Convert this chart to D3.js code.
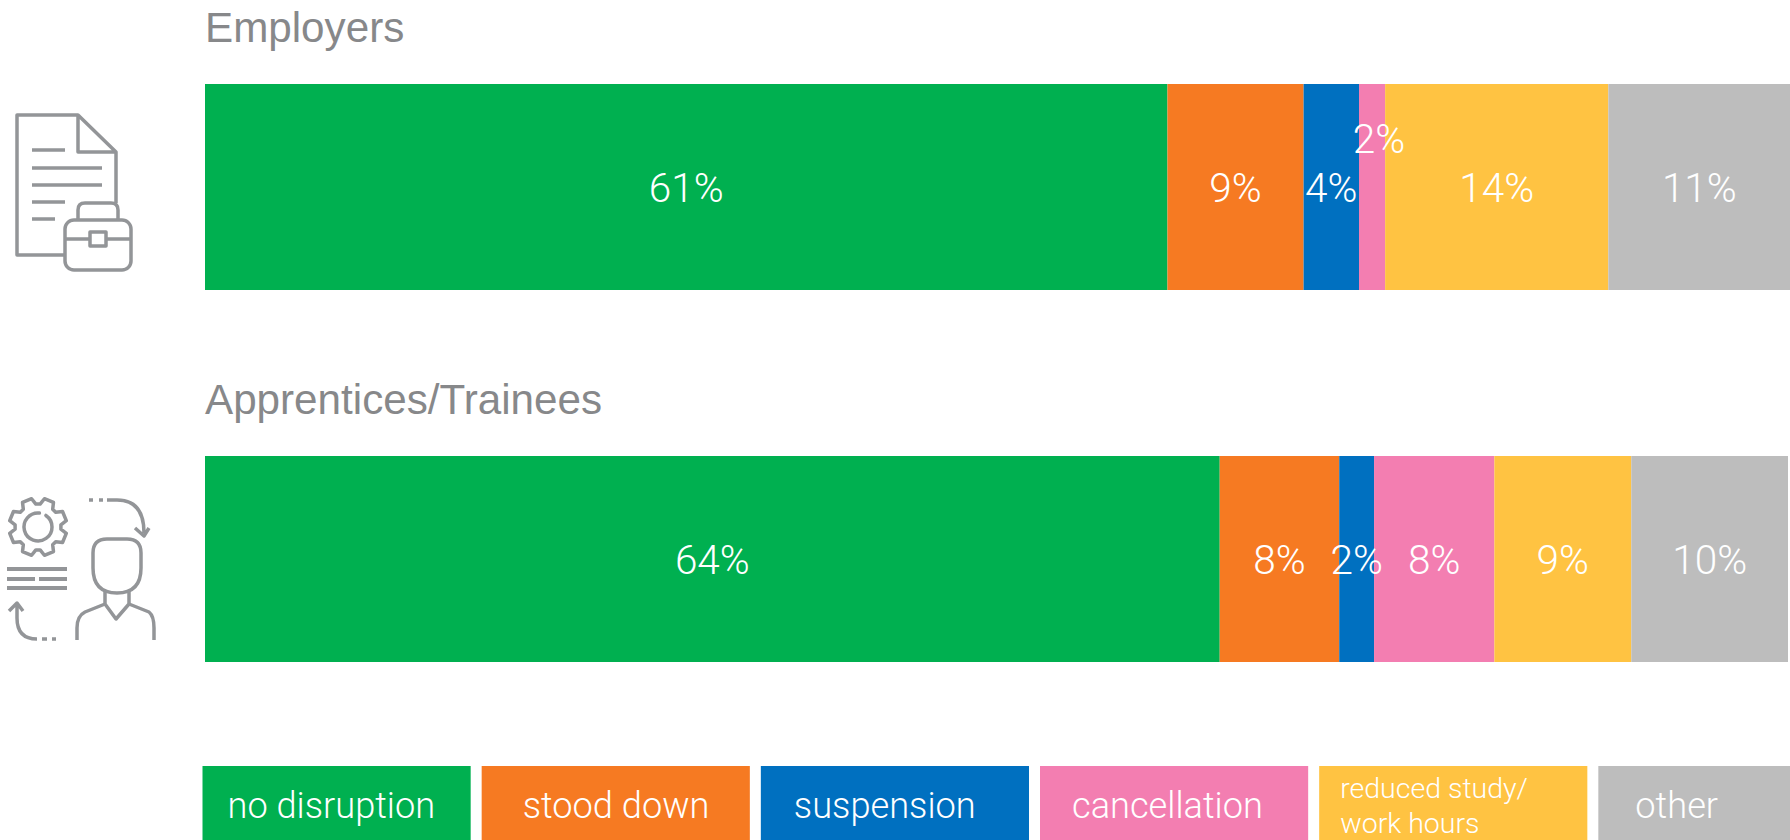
<!DOCTYPE html>
<html>
<head>
<meta charset="utf-8">
<script src="https://cdn.jsdelivr.net/npm/d3@7"></script>
<style>
  html, body { margin: 0; padding: 0; background: #fff; overflow: hidden; }
  svg { display: block; }
  text { font-family: "Liberation Sans", Arial, sans-serif; }
  text.light { font-family: Roboto, "Liberation Sans", sans-serif; font-weight: 300; }
  .icon path, .icon rect, .icon circle { fill: none; stroke: #939598; stroke-width: 3.5; stroke-linejoin: round; }
</style>
</head>
<body>
<div id="chart"></div>
<script>
// chart data
const categories = ["no disruption", "stood down", "suspension", "cancellation", "reduced study/ work hours", "other"];
const colors = ["#00b050", "#f67a22", "#0070c0", "#f37eb1", "#ffc342", "#bdbdbd"];
const groups = ["Employers", "Apprentices/Trainees"];
const employers = [60.8, 8.6, 3.5, 1.65, 14.1, 11.5];
const apprentices = [64.1, 7.55, 2.2, 7.6, 8.65, 9.9];
const employerLabels = ["61%", "9%", "4%", "2%", "14%", "11%"];
const apprenticeLabels = ["64%", "8%", "2%", "8%", "9%", "10%"];

const width = 1790, height = 840;

const svg = d3.select("#chart").append("svg")
  .attr("width", width)
  .attr("height", height);

const x = d3.scaleLinear().domain([0, 100]).range([205, 1788]);

// one row per group, y is the top of the bar
const barHeight = 206;
const y = d3.scalePoint().domain(groups).range([84, 456]);
const color = d3.scaleOrdinal().domain(categories).range(colors);

function drawBar(group, values, labels) {
  const g = svg.append("g");
  let sum = 0;
  const rows = values.map((v, i) => {
    const row = {cat: categories[i], start: sum, end: sum + v, label: labels[i]};
    sum += v;
    return row;
  });

  g.append("text")
    .attr("x", 205)
    .attr("y", y(group) - 42)
    .attr("font-size", 42.2)
    .attr("fill", "#87888a")
    .text(group);

  g.selectAll("rect").data(rows).enter().append("rect")
    .attr("x", d => x(d.start))
    .attr("y", y(group))
    .attr("width", d => x(d.end) - x(d.start))
    .attr("height", barHeight)
    .attr("fill", d => color(d.cat));

  g.selectAll(".val").data(rows).enter().append("text")
    .attr("class", "val light")
    .attr("text-anchor", "middle")
    .attr("font-size", 40.5)
    .attr("fill", "#fff")
    .attr("x", d => (x(d.start) + x(d.end)) / 2)
    .attr("y", y(group) + 118)
    // the small employers slice has its label pushed up and across
    .attr("transform", d => group === "Employers" && d.cat === "cancellation" ? "translate(7,-49)" : null)
    .text(d => d.label);
}

drawBar("Employers", employers, employerLabels);
drawBar("Apprentices/Trainees", apprentices, apprenticeLabels);

// legend boxes, last one runs off the page
const legendX = d3.scaleBand().domain(categories).range([202.5, 1866.5]).paddingInner(0.0394);
const legendPad = [25, 41, 33, 32, 21, 37];

const legend = svg.append("g");
legend.selectAll("rect").data(categories).enter().append("rect")
  .attr("x", d => legendX(d))
  .attr("y", 766)
  .attr("width", legendX.bandwidth())
  .attr("height", 74)
  .attr("fill", d => color(d));

categories.forEach((c, i) => {
  const tx = legendX(c) + legendPad[i];
  const line = (txt, yy, size) => legend.append("text").attr("class", "light")
    .attr("x", tx).attr("y", yy).attr("font-size", size).attr("fill", "#fff").text(txt);
  if (c.includes("/ ")) {
    const parts = c.split(" work");
    line(parts[0].trim(), 798, 28.5);
    line("work" + parts[1], 832.5, 28.5);
  } else {
    line(c, 818, 36.2);
  }
});

// icons
const icons = svg.append("g").attr("class", "icon");

// document + briefcase
icons.append("path").attr("d", "M66,255H17V115H78L116,152V203M78,115V152H116");
icons.append("path").attr("d", "M32,150H65M32,168H102M32,185H102M32,202H65M32,219H55");
icons.append("rect").attr("x", 65).attr("y", 220).attr("width", 66).attr("height", 50).attr("rx", 9);
icons.append("path").attr("d", "M78,220V210Q78,203 85,203H111Q118,203 118,210V220");
icons.append("path").attr("d", "M65,239H90M106,239H131");
icons.append("rect").attr("x", 90).attr("y", 232).attr("width", 16).attr("height", 14);

// gear
const gearPts = [];
for (let t = 0; t < 8; t++) {
  const a = t * Math.PI / 4 + Math.PI / 8;
  [[-0.30, 23], [-0.17, 29], [0.17, 29], [0.30, 23]].forEach(p => {
    gearPts.push([a + p[0], p[1]]);
  });
}
icons.append("path")
  .attr("transform", "translate(38,527)")
  .attr("d", d3.lineRadial().curve(d3.curveLinearClosed)(gearPts));
icons.append("path")
  .attr("transform", "translate(38,527)")
  .attr("d", d3.arc()({innerRadius: 14, outerRadius: 14, startAngle: 0.6, endAngle: Math.PI * 2 + 0.1}));

// text bars next to the gear
icons.append("path").style("stroke-width", 4)
  .attr("d", "M7,569H67M7,579H35M39,579H67M7,588H67");

// arrows
icons.append("path").attr("d", "M89,500H93M99,500H103M107,500H117Q144,500 144,533M135,528L144,536L149,528");
icons.append("path").attr("d", "M17,605V618Q17,639 37,639M9,611L17,603L23,611M42,639H47M52,639H56");

// person
icons.append("path").attr("d", "M107,539H127Q141,539 141,553V568Q141,593 117,593Q93,593 93,568V553Q93,539 107,539Z");
icons.append("path").attr("d", "M105,590V604L116,619L129,604V590");
icons.append("path").attr("d", "M105,604L85,612Q77,616 77,628V640M129,604L149,612Q154,616 154,628V640");
</script>
</body>
</html>
